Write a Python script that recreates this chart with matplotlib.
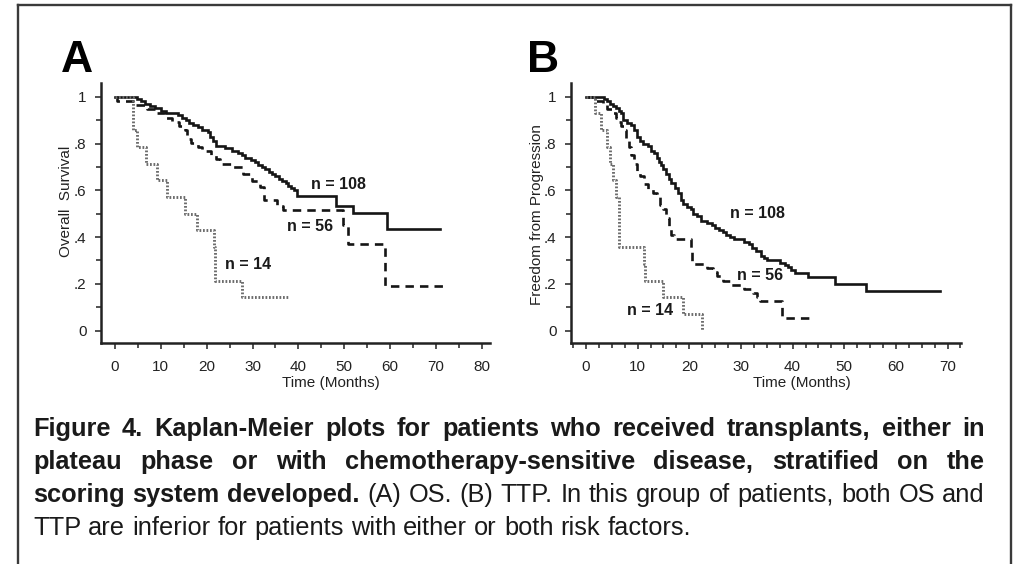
import matplotlib
matplotlib.use("Agg")
import matplotlib.pyplot as plt
from matplotlib.lines import Line2D
from matplotlib.ticker import MultipleLocator

# Kaplan-Meier steps: time (months) and survival after each step.
# The last time in each list is the end of follow-up.
OS_108_T = [0, 4.7, 5.6, 6.6, 7.7, 8.8, 10.0, 11.2, 13.8, 14.6, 15.4, 16.2, 17.0, 18.0,
            19.0, 20.3, 20.8, 21.3, 22.0, 24.0, 25.5, 26.8, 27.6, 28.4, 29.6, 30.5, 31.2,
            32.0, 32.8, 33.5, 34.2, 35.0, 35.8, 36.5, 37.2, 37.8, 38.4, 39.0, 39.7, 48.3,
            52.0, 59.3, 71.0]
OS_108_S = [1.0, 0.99, 0.98, 0.97, 0.96, 0.95, 0.94, 0.93, 0.92, 0.91, 0.90, 0.89, 0.88,
            0.87, 0.86, 0.85, 0.83, 0.81, 0.79, 0.78, 0.77, 0.76, 0.75, 0.74, 0.73, 0.72,
            0.71, 0.70, 0.69, 0.68, 0.67, 0.66, 0.65, 0.64, 0.63, 0.62, 0.61, 0.60, 0.575,
            0.535, 0.505, 0.435, 0.435]

OS_56_T = [0, 0.5, 4.5, 7.0, 9.0, 11.0, 12.5, 14.0, 15.2, 15.6, 16.5, 18.2, 19.0, 21.0,
           22.0, 22.9, 25.8, 28.0, 29.8, 31.6, 32.5, 35.3, 36.7, 49.8, 50.9, 58.9, 72.7]
OS_56_S = [1.0, 0.982, 0.964, 0.946, 0.929, 0.911, 0.893, 0.875, 0.857, 0.821, 0.804,
           0.786, 0.768, 0.75, 0.732, 0.714, 0.70, 0.67, 0.64, 0.615, 0.558, 0.535, 0.515,
           0.45, 0.37, 0.19, 0.19]

OS_14_T = [0, 3.9, 4.7, 6.8, 9.1, 11.3, 15.3, 17.8, 21.5, 21.9, 27.6, 37.8]
OS_14_S = [1.0, 0.857, 0.786, 0.714, 0.643, 0.571, 0.5, 0.429, 0.357, 0.214, 0.143, 0.143]

TTP_108_T = [0, 3.4, 4.0, 4.6, 5.3, 5.9, 6.4, 6.7, 7.2, 8.0, 8.8, 9.3, 9.8, 10.5, 11.1,
             12.0, 12.6, 13.2, 13.7, 14.2, 14.6, 15.0, 15.5, 16.0, 16.5, 17.2, 17.8, 18.3,
             18.8, 19.5, 20.3, 20.8, 21.4, 22.2, 23.4, 24.3, 25.0, 25.8, 26.5, 27.2, 27.9,
             28.6, 30.5, 31.5, 32.2, 33.0, 33.8, 34.4, 35.0, 37.6, 38.5, 39.2, 39.7, 40.4,
             43.0, 48.2, 54.3, 68.5]
TTP_108_S = [1.0, 0.99, 0.98, 0.97, 0.96, 0.95, 0.94, 0.93, 0.90, 0.89, 0.88, 0.86, 0.83,
             0.81, 0.80, 0.79, 0.77, 0.76, 0.74, 0.72, 0.71, 0.69, 0.67, 0.65, 0.63, 0.61,
             0.59, 0.56, 0.54, 0.53, 0.52, 0.50, 0.49, 0.47, 0.46, 0.45, 0.44, 0.43, 0.42,
             0.41, 0.40, 0.39, 0.38, 0.37, 0.355, 0.34, 0.32, 0.31, 0.30, 0.29, 0.28, 0.27,
             0.26, 0.245, 0.23, 0.20, 0.17, 0.17]

TTP_56_T = [0, 1.8, 3.2, 4.0, 5.0, 5.8, 6.3, 6.8, 7.3, 7.8, 8.3, 8.8, 9.3, 9.9, 10.5,
            11.2, 12.0, 13.0, 13.8, 14.4, 15.0, 15.5, 16.0, 16.5, 17.0, 20.3, 20.6, 23.4,
            24.5, 25.3, 26.5, 27.9, 30.5, 32.4, 33.2, 33.7, 37.9, 43.7]
TTP_56_S = [1.0, 0.982, 0.964, 0.946, 0.929, 0.911, 0.893, 0.875, 0.857, 0.821, 0.786,
            0.75, 0.714, 0.679, 0.661, 0.625, 0.607, 0.589, 0.571, 0.536, 0.518, 0.482,
            0.446, 0.411, 0.393, 0.339, 0.286, 0.268, 0.25, 0.232, 0.214, 0.196, 0.179,
            0.161, 0.143, 0.125, 0.054, 0.054]

TTP_14_T = [0, 1.8, 3.0, 4.0, 4.7, 5.3, 5.9, 6.3, 11.2, 11.5, 15.0, 18.8, 22.4]
TTP_14_S = [1.0, 0.929, 0.857, 0.786, 0.714, 0.643, 0.571, 0.357, 0.286, 0.214, 0.143,
            0.071, 0.0]

GROUP_LABELS = ["n = 108", "n = 56", "n = 14"]
Y_TICKS = [0, 0.2, 0.4, 0.6, 0.8, 1.0]
Y_TICK_LABELS = ["0", ".2", ".4", ".6", ".8", "1"]

CAPTION = [
    ([("Figure 4. Kaplan-Meier plots for patients who received transplants, either in", True)], True),
    ([("plateau phase or with chemotherapy-sensitive disease, stratified on the", True)], True),
    ([("scoring system developed.", True),
      ("(A) OS. (B) TTP. In this group of patients, both OS and", False)], True),
    ([("TTP are inferior for patients with either or both risk factors.", False)], False),
]

W, H = 1014, 564
INK = "#1a1a1a"
AXIS_INK = "#222222"

plt.rcParams["font.family"] = ["Liberation Sans", "DejaVu Sans"]

fig = plt.figure(figsize=(W / 100, H / 100), dpi=100)
fig.patch.set_facecolor("white")


def fx(px):
    return px / W


def fy(py):
    return 1 - py / H


def add_panel(left_px, right_px, xlim, xmax_tick, xminor, curves, label_pos):
    ax = fig.add_axes([fx(left_px), fy(343), fx(right_px - left_px), (343 - 83) / H])
    styles = [
        dict(color="#151515", lw=1.9, linestyle="-"),
        dict(color="#151515", lw=1.9, linestyle=(0, (3.2, 2.3))),
        dict(color="#6c6c6c", lw=2.1, linestyle=(0, (0.6, 0.6))),
    ]
    for (t, s), st in zip(curves, styles):
        ax.step(t, s, where="post", solid_joinstyle="miter", **st)
    for text, (x, y) in zip(GROUP_LABELS, label_pos):
        ax.text(x, y, text, fontsize=11.5, fontweight="bold", color=INK,
                ha="left", va="center")

    ax.set_xlim(*xlim)
    ax.set_ylim(-0.053, 1.059)
    ax.set_xticks(range(0, xmax_tick + 1, 10))
    ax.xaxis.set_minor_locator(MultipleLocator(xminor))
    ax.set_yticks(Y_TICKS)
    ax.set_yticklabels(Y_TICK_LABELS)
    ax.yaxis.set_minor_locator(MultipleLocator(0.1))
    for side in ["top", "right"]:
        ax.spines[side].set_visible(False)
    for side in ["left", "bottom"]:
        ax.spines[side].set_linewidth(1.8)
        ax.spines[side].set_color(AXIS_INK)
    ax.tick_params(which="both", direction="out", color="#333333", width=1.2,
                   labelsize=11, labelcolor=AXIS_INK)
    ax.tick_params(which="major", length=4.5)
    ax.tick_params(which="minor", length=3.5)
    ax.tick_params(axis="x", pad=8)
    ax.tick_params(axis="y", pad=6)
    ax.set_facecolor("none")
    return ax


add_panel(101, 490, (-3.05, 81.8), 80, 5,
          [(OS_108_T, OS_108_S), (OS_56_T, OS_56_S), (OS_14_T, OS_14_S)],
          [(42.7, 0.626), (37.5, 0.447), (24.0, 0.281)])
add_panel(571, 961, (-2.9, 72.6), 70, 2.5,
          [(TTP_108_T, TTP_108_S), (TTP_56_T, TTP_56_S), (TTP_14_T, TTP_14_S)],
          [(27.9, 0.503), (29.2, 0.235), (7.9, 0.088)])

# panel letters and axis titles
fig.text(fx(61), fy(72), "A", fontsize=32, fontweight="bold", color="black",
         ha="left", va="baseline")
fig.text(fx(527), fy(72), "B", fontsize=32, fontweight="bold", color="black",
         ha="left", va="baseline")
fig.text(fx(331), fy(383), "Time (Months)", fontsize=11, color=AXIS_INK,
         ha="center", va="center")
fig.text(fx(802), fy(383), "Time (Months)", fontsize=11, color=AXIS_INK,
         ha="center", va="center")
fig.text(fx(66.5), fy(201), "Overall  Survival", fontsize=11, color=AXIS_INK,
         rotation=90, ha="center", va="center")
fig.text(fx(537.5), fy(215), "Freedom from Progression", fontsize=11, color=AXIS_INK,
         rotation=90, ha="center", va="center")

# justified caption, laid out word by word
cap_size = 18.3
cap_left, cap_right = 33, 985
baselines = [436, 469, 502, 535]
renderer = fig.canvas.get_renderer()
space_px = 0.278 * cap_size * 100 / 72
for (segments, justify), base in zip(CAPTION, baselines):
    words = [(w, bold) for text, bold in segments for w in text.split()]
    arts = [fig.text(0, fy(base), w, fontsize=cap_size, color=INK,
                     fontweight="bold" if bold else "normal",
                     ha="left", va="baseline") for w, bold in words]
    widths = [a.get_window_extent(renderer).width for a in arts]
    if justify:
        gap = (cap_right - cap_left - sum(widths)) / (len(arts) - 1)
    else:
        gap = space_px
    x = cap_left
    for a, wd in zip(arts, widths):
        a.set_x(fx(x))
        x += wd + gap

# frame around the figure (open at the bottom)
frame = dict(color="#3a3a3a", lw=1.7, transform=fig.transFigure)
fig.add_artist(Line2D([fx(18), fx(18)], [0, fy(5)], **frame))
fig.add_artist(Line2D([fx(18), fx(1011)], [fy(5), fy(5)], **frame))
fig.add_artist(Line2D([fx(1011), fx(1011)], [fy(5), 0], **frame))

fig.savefig("out.png", dpi=100, facecolor="white")
